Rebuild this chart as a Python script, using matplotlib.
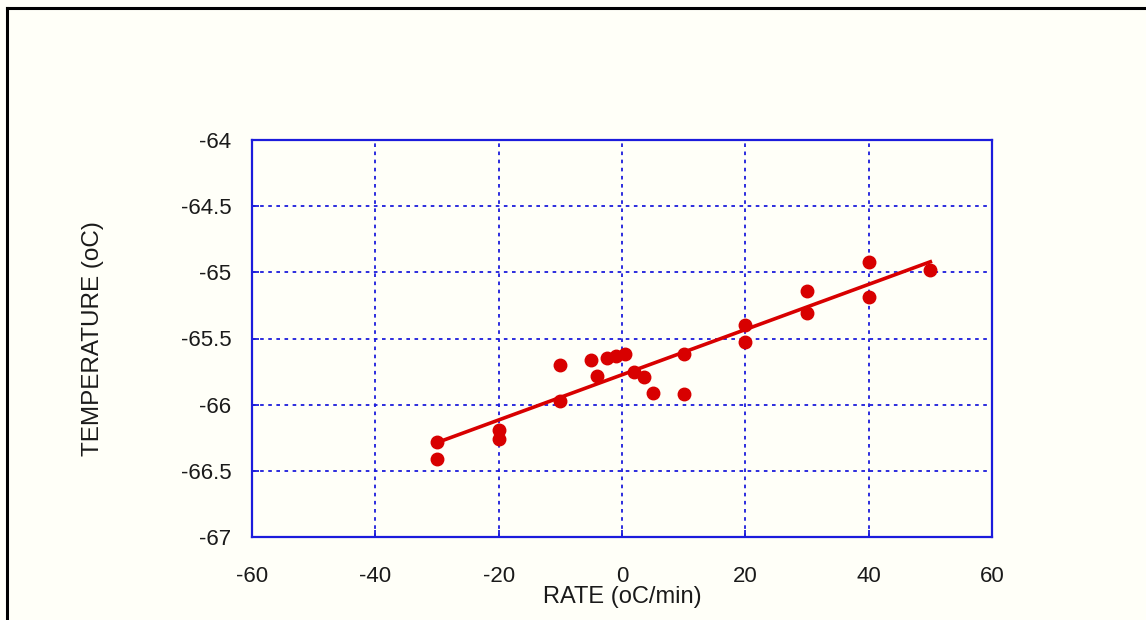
import numpy as np
import matplotlib.pyplot as plt
from matplotlib.lines import Line2D

plt.rcParams['font.family'] = ['Liberation Sans', 'DejaVu Sans']

# data
rate = [-30, -30, -20, -20, -10, -10, -5, -4, -2.5, -1, 0.5, 2, 3.5, 5,
        10, 10, 20, 20, 30, 30, 40, 40, 50]
temp = [-66.28, -66.41, -66.19, -66.26, -65.70, -65.97, -65.66, -65.78,
        -65.65, -65.63, -65.62, -65.75, -65.79, -65.91, -65.62, -65.92,
        -65.40, -65.53, -65.14, -65.31, -64.92, -65.19, -64.98]

xticks = [-60, -40, -20, 0, 20, 40, 60]
yticks = [-67, -66.5, -66, -65.5, -65, -64.5, -64]

bg = '#fffff8'
blue = '#1c1cdc'
red = '#d80000'

fig = plt.figure(figsize=(11.46, 6.2), dpi=100, facecolor=bg)
ax = fig.add_axes([252 / 1146, 83 / 620, 740 / 1146, 397 / 620])
ax.set_facecolor(bg)

# outer frame (only top and left visible)
fig.add_artist(Line2D([7 / 1146, 7 / 1146], [0, 1 - 8 / 620], transform=fig.transFigure,
                      color='black', lw=2.2))
fig.add_artist(Line2D([7 / 1146, 1], [1 - 8 / 620, 1 - 8 / 620], transform=fig.transFigure,
                      color='black', lw=2.2))

x = np.array(rate)
y = np.array(temp)
k, b = np.polyfit(x, y, 1)
xl = np.array([x.min(), x.max()])
ax.plot(xl, k * xl + b, color=red, lw=2.6, zorder=3)
ax.plot(x, y, 'o', color=red, ms=9, zorder=4)

ax.set_xlim(-60, 60)
ax.set_ylim(-67, -64)
ax.set_xticks(xticks)
ax.set_yticks(yticks)
ax.set_xticklabels([str(t) for t in xticks])
ax.set_yticklabels(['-67', '-66.5', '-66', '-65.5', '-65', '-64.5', '-64'])

ax.grid(True, color=blue, ls=(0, (2, 2.5)), lw=1.3)
for s in ax.spines.values():
    s.set_color(blue)
    s.set_linewidth(1.6)
ax.tick_params(axis='both', direction='in', color=blue, length=5, width=1.3,
               labelsize=16, labelcolor='#1a1a1a')
ax.tick_params(axis='x', pad=21)
ax.tick_params(axis='y', pad=15)

ax.set_xlabel('RATE (oC/min)', fontsize=17, color='#1a1a1a')
ax.set_ylabel('TEMPERATURE (oC)', fontsize=17.5, color='#1a1a1a')
ax.xaxis.set_label_coords(0.5, -0.124)
ax.yaxis.set_label_coords(-0.2, 0.5)

fig.savefig('out.png', dpi=100, facecolor=bg)
